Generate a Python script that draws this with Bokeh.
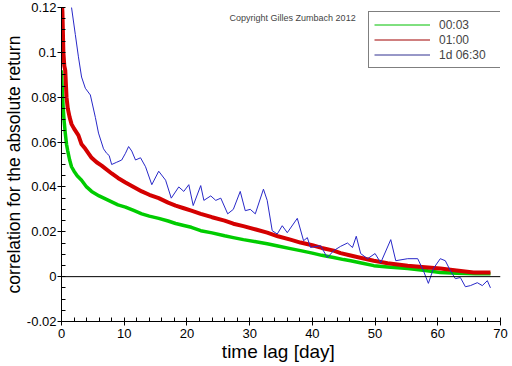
import math
from bokeh.plotting import figure
from bokeh.models import (Range1d, FixedTicker, CustomJSTickFormatter, Span, Label,
                          Legend, LegendItem)
from bokeh.embed import file_html
from bokeh.resources import INLINE

# ---- data ----
green_x = [0.0, 0.1, 0.25, 0.4, 0.6, 0.8, 1.0, 1.3, 1.6, 2.0,
           2.5, 3.2, 4.0, 4.8, 6.0, 7.5, 9.0, 10.2, 11.5, 12.8,
           14.0, 15.5, 17.0, 18.2, 19.5, 20.7, 22.2, 24.0, 26.0, 27.4,
           29.0, 31.0, 32.8, 34.5, 36.5, 38.1, 40.0, 41.5, 43.4, 45.0,
           46.1, 48.0, 49.8, 52.0, 55.2, 58.0, 60.4, 63.0, 66.0, 68.4]
green_y = [0.092, 0.085, 0.076, 0.070, 0.064, 0.059, 0.056, 0.052, 0.049, 0.047,
           0.045, 0.043, 0.040, 0.038, 0.036, 0.034, 0.032, 0.031, 0.0295, 0.028,
           0.027, 0.026, 0.0248, 0.0237, 0.0228, 0.022, 0.0205, 0.0195, 0.0182, 0.0174,
           0.0165, 0.0156, 0.0147, 0.0137, 0.0125, 0.0116, 0.0105, 0.0095, 0.0085, 0.0076,
           0.0071, 0.0060, 0.0049, 0.0043, 0.0036, 0.0027, 0.0018, 0.0015, 0.0013, 0.0013]

red_x = [0.0, 0.15, 0.3, 0.45, 0.6, 0.8, 1.0, 1.3, 1.6, 2.0,
         2.7, 3.2, 3.8, 4.8, 5.6, 6.4, 8.0, 9.0, 10.2, 11.5,
         12.8, 14.0, 15.5, 17.0, 18.2, 19.5, 20.7, 22.2, 24.0, 26.0,
         27.4, 29.0, 31.0, 32.8, 34.5, 36.5, 38.1, 40.0, 41.5, 43.4,
         44.5, 46.1, 48.0, 49.8, 52.0, 55.2, 58.0, 60.4, 63.0, 65.7,
         68.4]
red_y = [0.125, 0.118, 0.100, 0.094, 0.092, 0.080, 0.075, 0.071, 0.068, 0.066,
         0.063, 0.059, 0.057, 0.053, 0.051, 0.0495, 0.046, 0.044, 0.042, 0.040,
         0.038, 0.0365, 0.035, 0.033, 0.0317, 0.0305, 0.0294, 0.028, 0.0265, 0.025,
         0.0236, 0.0225, 0.021, 0.0196, 0.018, 0.0165, 0.0152, 0.014, 0.0128, 0.0116,
         0.0105, 0.0094, 0.0082, 0.0071, 0.0060, 0.0049, 0.0042, 0.0036, 0.0027, 0.0018,
         0.0018]

blue_x = [1.3, 1.6, 2.2, 2.7, 3.2, 3.8, 4.6, 5.4, 5.9, 6.7,
          7.2, 7.6, 8.0, 8.8, 9.6, 10.2, 10.7, 11.2, 11.8, 12.6,
          13.4, 14.4, 15.5, 16.6, 17.5, 18.7, 19.5, 20.3, 21.0, 22.2,
          22.7, 23.8, 24.6, 25.4, 26.5, 27.4, 28.5, 29.3, 30.1, 30.9,
          32.2, 32.8, 33.6, 34.4, 35.2, 36.0, 37.6, 38.6, 39.2, 39.7,
          41.3, 42.4, 43.4, 44.5, 45.6, 46.4, 47.0, 47.7, 48.8, 50.0,
          50.9, 52.5, 53.3, 55.2, 56.8, 57.7, 58.5, 59.3, 60.4, 61.2,
          62.0, 62.8, 63.6, 64.4, 65.2, 66.3, 67.1, 67.9, 68.4]
blue_y = [0.135, 0.12, 0.108, 0.098, 0.089, 0.084, 0.081, 0.071, 0.064, 0.057,
          0.055, 0.054, 0.050, 0.051, 0.052, 0.055, 0.058, 0.056, 0.052, 0.053,
          0.049, 0.041, 0.047, 0.043, 0.035, 0.040, 0.038, 0.041, 0.0317, 0.0406,
          0.034, 0.036, 0.034, 0.035, 0.028, 0.030, 0.038, 0.0294, 0.030, 0.028,
          0.039, 0.034, 0.0205, 0.019, 0.0227, 0.0196, 0.026, 0.016, 0.0174, 0.013,
          0.0138, 0.0085, 0.0116, 0.0135, 0.015, 0.013, 0.018, 0.0103, 0.008, 0.0103,
          0.0062, 0.0165, 0.0071, 0.008, 0.008, 0.0027, -0.003, 0.0036, 0.008, 0.0071,
          0.0027, -0.0009, -0.0004, -0.0045, -0.004, -0.0027, -0.004, -0.0018, -0.005]

series_labels = ["00:03", "01:00", "1d 06:30"]
x_ticks = [0, 10, 20, 30, 40, 50, 60, 70]
x_minor = [2 * i for i in range(36)]
y_ticks = [-0.02, 0, 0.02, 0.04, 0.06, 0.08, 0.1, 0.12]
y_minor = [round(-0.02 + 0.005 * i, 3) for i in range(29)]

FONT = "Liberation Sans"

p = figure(width=512, height=366, output_backend="svg", toolbar_location=None,
           x_range=Range1d(0, 70), y_range=Range1d(-0.02, 0.12),
           min_border_left=61, min_border_right=12, min_border_top=7, min_border_bottom=45)
p.outline_line_color = None
p.grid.visible = False
p.background_fill_color = "white"
p.border_fill_color = "white"

for ax, ticks, minor in ((p.xaxis[0], x_ticks, x_minor), (p.yaxis[0], y_ticks, y_minor)):
    ax.ticker = FixedTicker(ticks=ticks, minor_ticks=minor)
    ax.formatter = CustomJSTickFormatter(code="return String(parseFloat(tick.toFixed(4)));")
    ax.axis_line_color = "black"
    ax.major_tick_line_color = "black"
    ax.minor_tick_line_color = "black"
    ax.major_tick_out = 4
    ax.major_tick_in = 3
    ax.minor_tick_out = 0
    ax.minor_tick_in = 4
    ax.major_label_text_font = FONT
    ax.major_label_text_font_size = "13px"
    ax.major_label_text_color = "black"
    ax.axis_label_text_font = FONT
    ax.axis_label_text_font_style = "normal"
    ax.axis_label_text_color = "black"
    ax.axis_label_standoff = 0

p.xaxis[0].major_label_standoff = 3
p.yaxis[0].major_label_standoff = 1
p.xaxis[0].axis_label = "time lag  [day]"
p.xaxis[0].axis_label_text_font_size = "19px"
p.yaxis[0].axis_label = "correlation for the absolute return"
p.yaxis[0].axis_label_text_font_size = "17.5px"

p.add_layout(Span(location=0, dimension="width", line_color="black", line_width=1))

g = p.line(green_x, green_y, line_color="#00cc00", line_width=3.5, line_join="round")
r = p.line(red_x, red_y, line_color="#d40000", line_width=4, line_join="round")
b = p.line(blue_x, blue_y, line_color="#2828c8", line_width=1)

# thin legend samples (no visible data)
nan = float("nan")
lg = p.line(x=[nan], y=[nan], line_color="#00c000", line_width=1)
lr = p.line(x=[nan], y=[nan], line_color="#a00000", line_width=1)
lb = p.line(x=[nan], y=[nan], line_color="#303090", line_width=1)

legend = Legend(items=[LegendItem(label=series_labels[0], renderers=[lg]),
                       LegendItem(label=series_labels[1], renderers=[lr]),
                       LegendItem(label=series_labels[2], renderers=[lb])],
                location=(307, 253), glyph_width=56, glyph_height=15,
                label_height=15, label_width=62, label_standoff=9, spacing=0,
                padding=5, margin=0, border_line_color="black", border_line_width=1,
                background_fill_alpha=1, label_text_font=FONT, label_text_font_size="12px")
p.add_layout(legend)

p.add_layout(Label(x=26.8, y=0.1129, text="Copyright Gilles Zumbach 2012",
                   text_font=FONT, text_font_size="9px", text_baseline="bottom"))

open("out.html", "w").write(file_html(p, INLINE))
